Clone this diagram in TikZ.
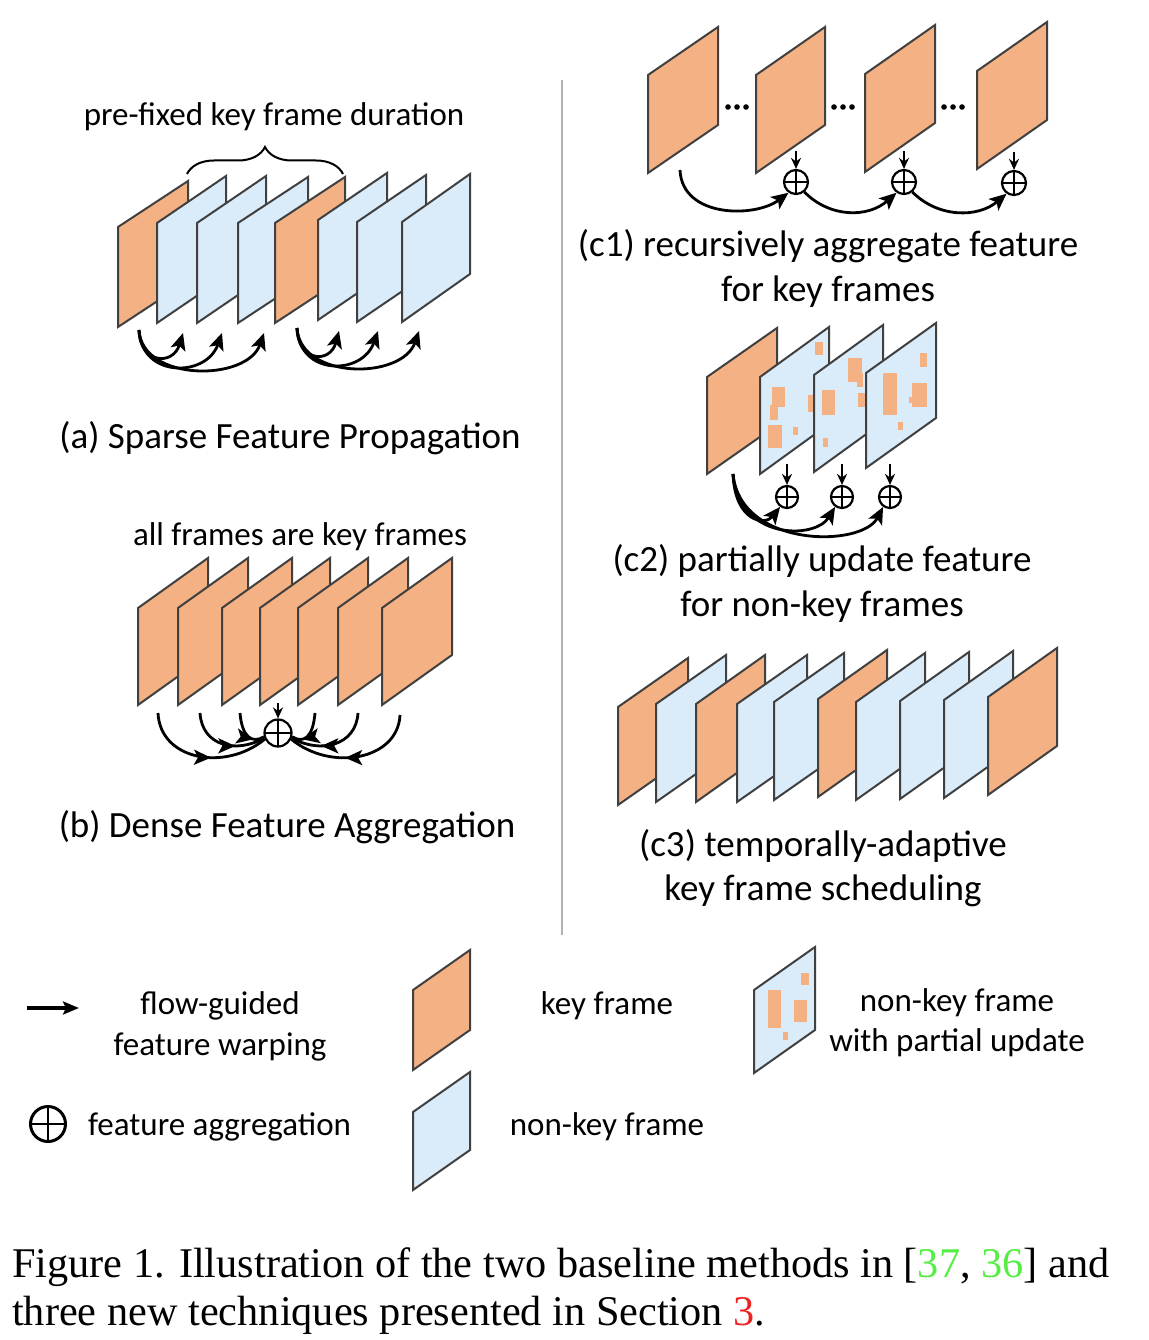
\documentclass[tikz,border=0pt]{standalone}
\usepackage{fontspec}
\setmainfont{Carlito}
\newfontfamily\capfont{Liberation Serif}
\usetikzlibrary{arrows.meta,decorations.pathreplacing,decorations.markings}
\definecolor{kf}{HTML}{F4B183}
\definecolor{nk}{HTML}{DAEBF9}
\definecolor{edgec}{HTML}{404040}
\definecolor{citeg}{HTML}{55EE44}
\definecolor{secr}{HTML}{EE2222}
\newcommand{\drawframe}[6]{\draw[framebox,fill=#6] (#1,#2) -- ++(0,-#4) -- ++(#3,-#5) -- ++(0,#4) -- cycle;}
\newcommand{\patch}[4]{\fill[kf] (#1,#2) rectangle (#3,#4);}
\begin{document}
\begin{tikzpicture}[x=1pt,y=-1pt,
  framebox/.style={draw=edgec,line width=2pt,line join=miter},
  flow/.style={line width=2.8pt,-{Stealth[length=17pt,width=15pt,inset=4pt]}},
  flowplain/.style={line width=2.8pt},
  down/.style={line width=2.4pt,-{Stealth[length=11pt,width=10pt]}},
  oplus/.style={circle,draw,line width=2.2pt,inner sep=0pt,minimum size=#1,
     path picture={\draw[line width=2pt] (path picture bounding box.north) -- (path picture bounding box.south)
        (path picture bounding box.west) -- (path picture bounding box.east);}},
  oplus/.default=24pt,
  lbl/.style={font=\fontsize{37}{44}\selectfont,anchor=base,inner sep=0pt},
  slbl/.style={font=\fontsize{33}{40}\selectfont,anchor=base,inner sep=0pt},
  midarrow/.style={postaction={decorate},decoration={markings,mark=at position #1 with {\arrow[line width=2.8pt]{Stealth[length=17pt,width=15pt,inset=4pt]}}}}
]
\useasboundingbox (0,0) rectangle (1148,1340);

% ---------------- (a)
\node[slbl] (atxt) at (274,126) {pre-fixed key frame duration};
\draw[line width=2pt,decorate,decoration={brace,amplitude=27pt}] (187,174) -- (343,174);
\drawframe{118}{327}{70}{100}{46}{kf}
\drawframe{157}{323}{69}{100}{47}{nk}
\drawframe{197}{323}{69}{100}{47}{nk}
\drawframe{238}{323}{70}{100}{46}{nk}
\drawframe{275}{323}{70}{100}{46}{kf}
\drawframe{318}{320}{69}{100}{47}{nk}
\drawframe{357}{322}{69}{100}{47}{nk}
\drawframe{402}{322}{68}{100}{48}{nk}
\coordinate (as1) at (139,330);
\coordinate (at1) at (183,333);
\coordinate (at2) at (222,333);
\coordinate (at3) at (264,333);
\draw[flow] (as1) .. controls (140,364) and (173,366) .. (at1);
\draw[flow] (as1) .. controls (141,378) and (206,378) .. (at2);
\draw[flow] (as1) .. controls (142,382) and (247,382) .. (at3);
\coordinate (as2) at (297,328);
\coordinate (at4) at (339,331);
\coordinate (at5) at (378,331);
\coordinate (at6) at (419,331);
\draw[flow] (as2) .. controls (298,362) and (330,364) .. (at4);
\draw[flow] (as2) .. controls (299,376) and (362,376) .. (at5);
\draw[flow] (as2) .. controls (300,380) and (402,380) .. (at6);
\node[lbl] (atitle) at (290,448) {(a) Sparse Feature Propagation};

% ---------------- (b)
\node[slbl] (btxt) at (300,545) {all frames are key frames};
\drawframe{138}{705}{70}{97}{50}{kf}
\drawframe{178}{705}{70}{97}{50}{kf}
\drawframe{222}{705}{70}{97}{50}{kf}
\drawframe{260}{705}{70}{97}{50}{kf}
\drawframe{298}{705}{70}{97}{50}{kf}
\drawframe{338}{705}{70}{97}{50}{kf}
\drawframe{382}{705}{70}{97}{50}{kf}
\node[oplus=27pt] (bp) at (278,733) {};
\coordinate (bd) at (278,703);
\draw[down] (bd) -- (bp.north);
\coordinate (bl1) at (158,713);
\coordinate (bl2) at (200,713);
\coordinate (bl3) at (240,713);
\coordinate (br1) at (400,715);
\coordinate (br2) at (358,713);
\coordinate (br3) at (315,713);
\draw[flowplain,midarrow=0.57] (bl1) .. controls (160,760) and (225,772) .. (bp.205);
\draw[flowplain,midarrow=0.64] (bl2) .. controls (202,746) and (236,754) .. (bp.200);
\draw[flowplain,midarrow=0.74] (bl3) .. controls (242,737) and (252,744) .. (bp.195);
\draw[flowplain,midarrow=0.57] (br1) .. controls (398,760) and (331,772) .. (bp.-25);
\draw[flowplain,midarrow=0.64] (br2) .. controls (356,746) and (320,754) .. (bp.-20);
\draw[flowplain,midarrow=0.74] (br3) .. controls (313,737) and (304,744) .. (bp.-15);
\node[lbl] (btitle) at (287,837) {(b) Dense Feature Aggregation};

% divider
\coordinate (dv1) at (562,80);
\coordinate (dv2) at (562,935);
\draw[line width=1.5pt,color=black!30] (dv1) -- (dv2);

% ---------------- (c1)
\drawframe{648}{173}{70}{98}{48}{kf}
\drawframe{756}{173}{69}{98}{48}{kf}
\drawframe{865}{172}{70}{98}{49}{kf}
\drawframe{977}{169}{70}{98}{49}{kf}
\foreach \cx in {737,843,953}{
  \fill (\cx-9,107) circle (2.8pt);
  \fill (\cx,107) circle (2.8pt);
  \fill (\cx+9,107) circle (2.8pt);
}
\node[oplus] (cp1) at (796,182) {};
\node[oplus] (cp2) at (904,182) {};
\node[oplus] (cp3) at (1014,183) {};
\coordinate (cd1) at (796,151);
\coordinate (cd2) at (904,151);
\coordinate (cd3) at (1014,152);
\draw[down] (cd1) -- (cp1.north);
\draw[down] (cd2) -- (cp2.north);
\draw[down] (cd3) -- (cp3.north);
\coordinate (cs) at (680,170);
\draw[flow] (cs) .. controls (682,218) and (755,218) .. (cp1.235);
\draw[flow] (cp1.-50) .. controls (830,218) and (868,218) .. (cp2.235);
\draw[flow] (cp2.-50) .. controls (938,218) and (978,218) .. (cp3.235);
\node[lbl] (c1t1) at (828,256) {(c1) recursively aggregate feature};
\node[lbl] (c1t2) at (828,301) {for key frames};

% ---------------- (c2)
\drawframe{707}{474}{70}{97}{49}{kf}
\drawframe{760}{474}{69}{97}{50}{nk}
\patch{815}{342}{823}{355}
\patch{772}{387}{785}{407}
\patch{770}{405}{778}{420}
\patch{768}{425}{782}{448}
\patch{793}{427}{798}{435}
\patch{808}{395}{813}{412}
\drawframe{814}{472}{69}{97}{50}{nk}
\patch{848}{358}{862}{382}
\patch{857}{373}{863}{387}
\patch{822}{390}{835}{415}
\patch{858}{393}{865}{407}
\patch{823}{438}{828}{447}
\drawframe{866}{468}{70}{95}{50}{nk}
\patch{883}{373}{897}{415}
\patch{920}{353}{927}{367}
\patch{912}{383}{927}{407}
\patch{909}{397}{914}{403}
\patch{898}{422}{903}{430}
\node[oplus=22pt] (q1) at (787,497) {};
\node[oplus=22pt] (q2) at (842,497) {};
\node[oplus=22pt] (q3) at (890,497) {};
\coordinate (qd1) at (787,464);
\coordinate (qd2) at (842,464);
\coordinate (qd3) at (890,464);
\draw[down] (qd1) -- (q1.north);
\draw[down] (qd2) -- (q2.north);
\draw[down] (qd3) -- (q3.north);
\coordinate (qs) at (733,474);
\draw[flow] (qs) .. controls (735,522) and (765,526) .. (q1.235);
\draw[flow] (qs) .. controls (738,540) and (815,540) .. (q2.235);
\draw[flow] (qs) .. controls (740,548) and (862,548) .. (q3.235);
\node[lbl] (c2t1) at (822,571) {(c2) partially update feature};
\node[lbl] (c2t2) at (822,616) {for non-key frames};

% ---------------- (c3)
\drawframe{618}{805}{70}{98}{49}{kf}
\drawframe{656}{802}{70}{98}{49}{nk}
\drawframe{696}{802}{69}{98}{49}{kf}
\drawframe{737}{802}{70}{98}{49}{nk}
\drawframe{774}{800}{70}{98}{49}{nk}
\drawframe{818}{797}{69}{98}{49}{kf}
\drawframe{856}{800}{69}{98}{49}{nk}
\drawframe{900}{799}{69}{98}{49}{nk}
\drawframe{944}{798}{69}{98}{49}{nk}
\drawframe{988}{795}{69}{98}{49}{kf}
\node[lbl] (c3t1) at (823,856) {(c3) temporally-adaptive};
\node[lbl] (c3t2) at (823,900) {key frame scheduling};

% ---------------- legend
\coordinate (la1) at (27,1008);
\coordinate (la2) at (79,1008);
\draw[line width=3.2pt,-{Stealth[length=16pt,width=13pt,inset=3pt]}] (la1) -- (la2);
\node[slbl] (l1a) at (220,1014) {flow-guided};
\node[slbl] (l1b) at (220,1055) {feature warping};
\drawframe{413}{1070}{57}{80}{40}{kf}
\node[slbl] (l2) at (607,1014) {key frame};
\drawframe{754}{1073}{61}{83}{43}{nk}
\patch{768}{990}{781}{1028}
\patch{794}{1000}{807}{1022}
\patch{801}{973}{809}{985}
\patch{783}{1032}{788}{1040}
\node[slbl] (l3a) at (957,1011) {non-key frame};
\node[slbl] (l3b) at (957,1051) {with partial update};
\node[oplus=35pt,line width=3pt] (lp) at (48,1124) {};
\node[slbl,anchor=base west] (l4) at (88,1135) {feature aggregation};
\drawframe{413}{1190}{57}{78}{40}{nk}
\node[slbl] (l5) at (607,1135) {non-key frame};

% ---------------- caption
\node[anchor=base west,inner sep=0pt,font=\capfont\fontsize{42.3}{48}\selectfont] (cap1) at (12,1277)
  {Figure 1. Illustration of the two baseline methods in [\textcolor{citeg}{37}, \textcolor{citeg}{36}] and};
\node[anchor=base west,inner sep=0pt,font=\capfont\fontsize{42.3}{48}\selectfont] (cap2) at (12,1325)
  {three new techniques presented in Section \textcolor{secr}{3}.};
\end{tikzpicture}
\end{document}
